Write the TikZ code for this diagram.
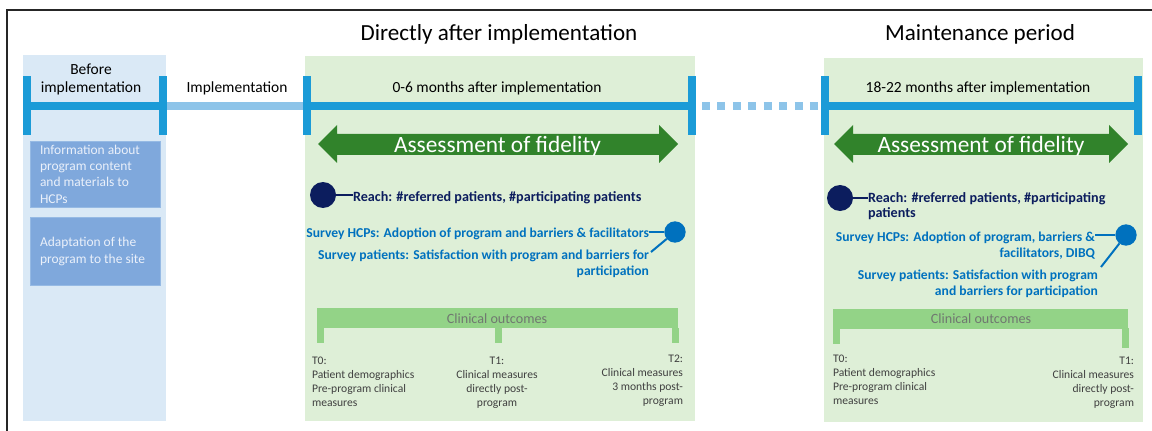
\documentclass[tikz,border=0pt]{standalone}
\usepackage{fontspec}
\setmainfont{Carlito}
\newcommand\fsz[2]{\fontsize{#1}{#2}\selectfont}
\definecolor{frameC}{RGB}{38,38,38}
\definecolor{beforeBg}{RGB}{218,233,246}
\definecolor{greenBg}{RGB}{222,239,215}
\definecolor{tickBlue}{RGB}{27,155,215}
\definecolor{implBlue}{RGB}{141,196,233}
\definecolor{boxBlue}{RGB}{127,168,220}
\definecolor{boxEdge}{RGB}{150,186,228}
\definecolor{fidGreen}{RGB}{49,131,43}
\definecolor{navy}{RGB}{12,29,94}
\definecolor{survBlue}{RGB}{0,113,190}
\definecolor{clinGreen}{RGB}{147,211,135}
\definecolor{clinText}{RGB}{112,120,112}
\definecolor{tText}{RGB}{64,64,64}
\definecolor{boxText}{RGB}{234,240,250}
\begin{document}
% multi-line nodes are placed by the baseline of their last line
\begin{tikzpicture}[x=0.75pt,y=-0.75pt,
  every node/.style={inner sep=0pt, outer sep=0pt},
  tick/.style={fill=tickBlue, minimum width=6pt, minimum height=44.25pt},
  bar/.style={draw=tickBlue, line width=6pt},
  implbar/.style={draw=implBlue, line width=6pt},
  dotbar/.style={draw=implBlue, line width=6pt, dash pattern=on 6pt off 5.57pt,
                 shorten <=4.5pt, shorten >=2.25pt},
  infobox/.style={fill=boxBlue, draw=boxEdge, line width=0.6pt,
                  minimum width=97.5pt},
  title/.style={font=\fsz{17.3}{20}, text=black},
  period/.style={font=\fsz{11.6}{13.5}, text=black, align=center},
  fidtxt/.style={font=\fsz{17.5}{20}, text=white},
  fidarrow/.style={fill=fidGreen},
  reachdot/.style={circle, fill=navy, minimum size=19.5pt},
  reachline/.style={draw=navy, line width=1.5pt},
  reachtxt/.style={font=\bfseries\fsz{10.6}{11.6}, text=navy, align=left},
  survdot/.style={circle, fill=survBlue, minimum size=16pt},
  survline/.style={draw=survBlue, line width=1.5pt},
  survtxt/.style={font=\bfseries\fsz{10.2}{11.4}, text=survBlue, align=right},
  clinbar/.style={fill=clinGreen, minimum height=15pt},
  clintick/.style={fill=clinGreen, minimum width=5.25pt},
  clintxt/.style={font=\fsz{10.6}{12}, text=clinText},
  ttxt/.style={font=\fsz{8.7}{10.3}, text=tText},
  boxtxt/.style={font=\fsz{10.1}{12.2}, text=boxText, align=left}]
\useasboundingbox (0,0) rectangle (1152,431);

% outer frame (top and left edges)
\draw[frameC, line width=1.1pt] (7,431) -- (7,10) -- (1152,10);

% period panels
\fill[beforeBg] (23,55) rectangle (166,421);
\fill[greenBg] (305,56) rectangle (695,421);
\fill[greenBg] (824,58) rectangle (1143,422);

% titles
\node[title, anchor=base] (ttlA) at (499,41) {Directly after implementation};
\node[title, anchor=base] (ttlB) at (980,41) {Maintenance period};

% timeline ticks
\node[tick] (t1) at (27,106) {};
\node[tick] (t2) at (163,106) {};
\node[tick] (t3) at (307,106) {};
\node[tick] (t4) at (692,106) {};
\node[tick] (t5) at (825,106) {};
\node[tick] (t6) at (1138,106) {};

% timeline bars
\draw[bar] (t1) -- (t2);
\draw[implbar] (t2) -- (t3);
\draw[bar] (t3) -- (t4);
\draw[dotbar] (t4) -- (t5);
\draw[bar] (t5) -- (t6);

% period labels
\node[period, anchor=base] (pBefore) at (91,93) {Before\\implementation};
\node[period, anchor=base] (pImpl) at (237,93) {Implementation};
\node[period, anchor=base] (pA) at (497,93) {0-6 months after implementation};
\node[period, anchor=base] (pB) at (978,93) {18-22 months after implementation};

% preparation boxes
\node[infobox, minimum height=49.5pt] (box1) at (95,174) {};
\node[boxtxt, anchor=base west] (box1t) at (40,203)
  {Information about\\program content\\and materials to\\HCPs};
\node[infobox, minimum height=51pt] (box2) at (95,251) {};
\node[boxtxt, anchor=base west] (box2t) at (40,263)
  {Adaptation of the\\program to the site};

% fidelity arrows
\fill[fidarrow] (318,144) -- (337,125) -- (337,134) -- (659,134) -- (659,125)
  -- (678,144) -- (659,163) -- (659,155) -- (337,155) -- (337,163) -- cycle;
\node[fidtxt, anchor=base] (fidA) at (497.5,152) {Assessment of fidelity};
\fill[fidarrow] (834,144) -- (853,125) -- (853,134) -- (1109,134) -- (1109,125)
  -- (1128,144) -- (1109,163) -- (1109,155) -- (853,155) -- (853,163) -- cycle;
\node[fidtxt, anchor=base] (fidB) at (981,152) {Assessment of fidelity};

% reach, first period
\node[reachdot] (r1) at (323,195) {};
\node[reachtxt, anchor=base west] (reach1) at (353,201)
  {Reach: \#referred patients, \#participating patients};
\draw[reachline] (r1) -- (r1 -| reach1.west);

% surveys, first period
\node[survdot] (c1) at (675,232) {};
\node[survtxt, anchor=base east] (hcp1) at (649,237)
  {Survey HCPs: Adoption of program and barriers \& facilitators};
\node[survtxt, anchor=base east] (pat1) at (649,275)
  {Survey patients: Satisfaction with program and barriers for\\participation};
\coordinate (d1) at (651,252);
\draw[survline] (c1) -- (c1 -| hcp1.east);
\draw[survline] (c1) -- (d1);

% reach, maintenance period
\node[reachdot] (r2) at (840,198) {};
\node[reachtxt, anchor=base west] (reach2) at (868,217.5)
  {Reach: \#referred patients, \#participating\\patients};
\draw[reachline] (r2) -- (r2 -| reach2.west);

% surveys, maintenance period
\node[survdot] (c2) at (1126,235) {};
\node[survtxt, anchor=base east] (hcp2) at (1095,257)
  {Survey HCPs: Adoption of program, barriers \&\\facilitators, DIBQ};
\node[survtxt, anchor=base east] (pat2) at (1098,295)
  {Survey patients: Satisfaction with program\\and barriers for participation};
\coordinate (d2) at (1101,267);
\draw[survline] (c2) -- (c2 -| hcp2.east);
\draw[survline] (c2) -- (d2);

% clinical outcomes, first period
\node[clinbar, minimum width=270.75pt] (cbA) at (497.5,318) {};
\node[clintick, minimum height=11.25pt] (ckA0) at (320.5,335.5) {};
\node[clintick, minimum height=11.25pt] (ckA1) at (498,335.5) {};
\node[clintick, minimum height=11.25pt] (ckA2) at (675,335.5) {};
\node[clintxt, anchor=base] (clA) at (497,323) {Clinical outcomes};
\node[ttxt, anchor=base west, align=left] (tA0) at (312,406)
  {T0:\\Patient demographics\\Pre-program clinical\\measures};
\node[ttxt, anchor=base, align=center] (tA1) at (497,406)
  {T1:\\Clinical measures\\directly post-\\program};
\node[ttxt, anchor=base east, align=right] (tA2) at (683,404)
  {T2:\\Clinical measures\\3 months post-\\program};

% clinical outcomes, maintenance period
\node[clinbar, minimum width=221.25pt] (cbB) at (980.5,318.5) {};
\node[clintick, minimum height=12pt] (ckB0) at (836.5,336) {};
\node[clintick, minimum height=15pt] (ckB1) at (1125,338) {};
\node[clintxt, anchor=base] (clB) at (981,323) {Clinical outcomes};
\node[ttxt, anchor=base west, align=left] (tB0) at (833,404)
  {T0:\\Patient demographics\\Pre-program clinical\\measures};
\node[ttxt, anchor=base east, align=right] (tB1) at (1134,406)
  {T1:\\Clinical measures\\directly post-\\program};
\end{tikzpicture}
\end{document}
